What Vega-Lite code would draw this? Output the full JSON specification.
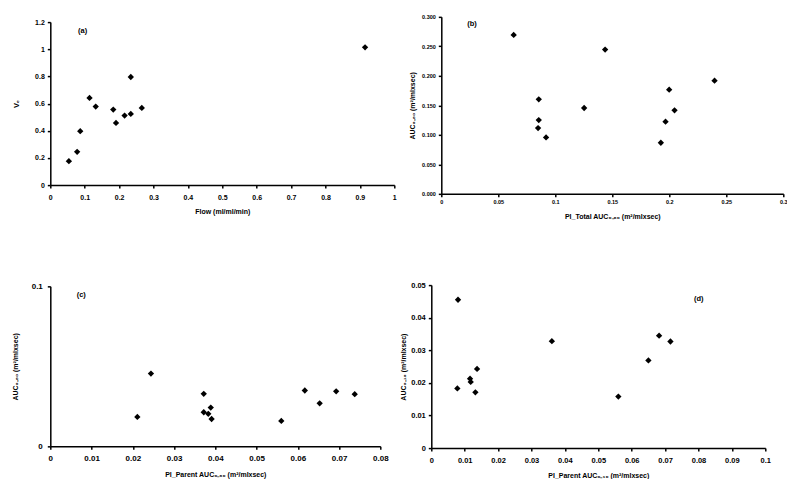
{
  "$schema": "https://vega.github.io/schema/vega-lite/v6.json",
  "padding": {"left": 11.3, "top": 11.6, "right": 0, "bottom": 0},
  "background": "white",
  "datasets": {
    "a": [
      {"x": 0.054, "y": 0.176}, {"x": 0.078, "y": 0.245}, {"x": 0.087, "y": 0.397},
      {"x": 0.114, "y": 0.642}, {"x": 0.132, "y": 0.578}, {"x": 0.183, "y": 0.556},
      {"x": 0.191, "y": 0.458}, {"x": 0.216, "y": 0.512}, {"x": 0.234, "y": 0.524},
      {"x": 0.234, "y": 0.796}, {"x": 0.266, "y": 0.568}, {"x": 0.915, "y": 1.014},
      {"x": 0.094, "y": 1.134, "label": "(a)"}
    ],
    "b": [
      {"x": 0.0635, "y": 0.2694}, {"x": 0.1437, "y": 0.2445}, {"x": 0.2397, "y": 0.1919},
      {"x": 0.1999, "y": 0.1766}, {"x": 0.0855, "y": 0.1602}, {"x": 0.1253, "y": 0.1455},
      {"x": 0.2046, "y": 0.1415}, {"x": 0.0855, "y": 0.1251}, {"x": 0.1967, "y": 0.1223},
      {"x": 0.0849, "y": 0.1115}, {"x": 0.0919, "y": 0.0957}, {"x": 0.1926, "y": 0.0866},
      {"x": 0.027, "y": 0.2876, "label": "(b)"}
    ],
    "c": [
      {"x": 0.0244, "y": 0.0455}, {"x": 0.0211, "y": 0.0184}, {"x": 0.0372, "y": 0.0328},
      {"x": 0.0372, "y": 0.0213}, {"x": 0.0383, "y": 0.0203}, {"x": 0.0389, "y": 0.0242},
      {"x": 0.0391, "y": 0.0171}, {"x": 0.056, "y": 0.0159}, {"x": 0.0617, "y": 0.0349},
      {"x": 0.0653, "y": 0.0269}, {"x": 0.0693, "y": 0.0344}, {"x": 0.0738, "y": 0.0326},
      {"x": 0.0075, "y": 0.0944, "label": "(c)"}
    ],
    "d": [
      {"x": 0.008, "y": 0.0455}, {"x": 0.0078, "y": 0.0183}, {"x": 0.0116, "y": 0.0213},
      {"x": 0.0118, "y": 0.0203}, {"x": 0.0137, "y": 0.0243}, {"x": 0.0132, "y": 0.0171},
      {"x": 0.0361, "y": 0.0328}, {"x": 0.056, "y": 0.0158}, {"x": 0.065, "y": 0.0269},
      {"x": 0.0682, "y": 0.0345}, {"x": 0.0716, "y": 0.0327},
      {"x": 0.0801, "y": 0.0458, "label": "(d)"}
    ]
  },
  "config": {
    "view": {"stroke": null},
    "axis": {
      "grid": false,
      "domainColor": "black", "domainWidth": 1.5,
      "tickColor": "black", "tickWidth": 1.5, "tickSize": 3,
      "labelFont": "Liberation Sans", "labelFontWeight": "bold", "labelColor": "black",
      "titleFont": "Liberation Sans", "titleFontWeight": "bold", "titleColor": "black",
      "labelFlush": false, "labelOverlap": false, "labelBound": false
    },
    "text": {"font": "Liberation Sans", "fontWeight": "bold", "fontSize": 7.5, "color": "black"}
  },
  "spacing": 54.25,
  "vconcat": [
    {
      "spacing": 12,
      "center": true,
      "hconcat": [
        {
          "width": 344, "height": 163,
          "data": {"name": "a"},
          "encoding": {
            "x": {"field": "x", "type": "quantitative",
              "scale": {"domain": [0, 1], "nice": false, "zero": false},
              "axis": {"values": [0, 0.1, 0.2, 0.3, 0.4, 0.5, 0.6, 0.7, 0.8, 0.9, 1], "format": "~g",
                "title": "Flow (ml/ml/min)", "labelFontSize": 7, "titleFontSize": 7, "labelPadding": 5, "titlePadding": 7}},
            "y": {"field": "y", "type": "quantitative",
              "scale": {"domain": [0, 1.2], "nice": false, "zero": false},
              "axis": {"values": [0, 0.2, 0.4, 0.6, 0.8, 1, 1.2], "format": "~g",
                "title": "Vₑ", "labelFontSize": 7, "titleFontSize": 7.5, "labelPadding": 3, "titlePadding": 13.7}}
          },
          "layer": [
            {"transform": [{"filter": "datum.label == null"}],
             "mark": {"type": "point", "shape": "diamond", "filled": true, "color": "black", "opacity": 1, "size": 40, "strokeWidth": 0}},
            {"transform": [{"filter": "datum.label != null"}],
             "mark": {"type": "text", "align": "center", "baseline": "middle"},
             "encoding": {"text": {"field": "label"}}}
          ]
        },
        {
          "width": 342, "height": 177,
          "title": {"text": " ", "fontSize": 1, "offset": 2.2},
          "data": {"name": "b"},
          "encoding": {
            "x": {"field": "x", "type": "quantitative",
              "scale": {"domain": [0, 0.3], "nice": false, "zero": false},
              "axis": {"values": [0, 0.05, 0.1, 0.15, 0.2, 0.25, 0.3], "format": "~g",
                "title": "PI_Total AUC₀₋₆₀ (m²/mlxsec)", "labelFontSize": 5.5, "titleFontSize": 7, "labelPadding": 3, "titlePadding": 7}},
            "y": {"field": "y", "type": "quantitative",
              "scale": {"domain": [0, 0.3], "nice": false, "zero": false},
              "axis": {"values": [0, 0.05, 0.1, 0.15, 0.2, 0.25, 0.3], "format": ".3f",
                "title": "AUC₀₋₆₀ (m²/mlxsec)", "labelFontSize": 5.5, "titleFontSize": 7, "labelPadding": 3, "titlePadding": 6}}
          },
          "layer": [
            {"transform": [{"filter": "datum.label == null"}],
             "mark": {"type": "point", "shape": "diamond", "filled": true, "color": "black", "opacity": 1, "size": 40, "strokeWidth": 0}},
            {"transform": [{"filter": "datum.label != null"}],
             "mark": {"type": "text", "align": "center", "baseline": "middle"},
             "encoding": {"text": {"field": "label"}}}
          ]
        }
      ]
    },
    {
      "spacing": 11,
      "center": true,
      "hconcat": [
        {
          "width": 330, "height": 160,
          "data": {"name": "c"},
          "encoding": {
            "x": {"field": "x", "type": "quantitative",
              "scale": {"domain": [0, 0.08], "nice": false, "zero": false},
              "axis": {"values": [0, 0.01, 0.02, 0.03, 0.04, 0.05, 0.06, 0.07, 0.08], "format": "~g",
                "title": "PI_Parent AUC₀₋₆₀ (m²/mlxsec)", "labelFontSize": 8, "titleFontSize": 7, "labelPadding": 5, "titlePadding": 8}},
            "y": {"field": "y", "type": "quantitative",
              "scale": {"domain": [0, 0.1], "nice": false, "zero": false},
              "axis": {"values": [0, 0.1], "format": "~g",
                "title": "AUC₀₋₆₀ (m²/mlxsec)", "labelFontSize": 8, "titleFontSize": 7, "labelPadding": 5, "titlePadding": 12.2}}
          },
          "layer": [
            {"transform": [{"filter": "datum.label == null"}],
             "mark": {"type": "point", "shape": "diamond", "filled": true, "color": "black", "opacity": 1, "size": 40, "strokeWidth": 0}},
            {"transform": [{"filter": "datum.label != null"}],
             "mark": {"type": "text", "align": "center", "baseline": "middle"},
             "encoding": {"text": {"field": "label"}}}
          ]
        },
        {
          "width": 334, "height": 163,
          "title": {"text": " ", "fontSize": 1, "offset": 5.4},
          "data": {"name": "d"},
          "encoding": {
            "x": {"field": "x", "type": "quantitative",
              "scale": {"domain": [0, 0.1], "nice": false, "zero": false},
              "axis": {"values": [0, 0.01, 0.02, 0.03, 0.04, 0.05, 0.06, 0.07, 0.08, 0.09, 0.1], "format": "~g",
                "title": "PI_Parent AUC₀₋₁₀ (m²/mlxsec)", "labelFontSize": 7.5, "titleFontSize": 7, "labelPadding": 5, "titlePadding": 8}},
            "y": {"field": "y", "type": "quantitative",
              "scale": {"domain": [0, 0.05], "nice": false, "zero": false},
              "axis": {"values": [0, 0.01, 0.02, 0.03, 0.04, 0.05], "format": "~g",
                "title": "AUC₀₋₁₀ (m²/mlxsec)", "labelFontSize": 7.5, "titleFontSize": 7, "labelPadding": 3, "titlePadding": 4}}
          },
          "layer": [
            {"transform": [{"filter": "datum.label == null"}],
             "mark": {"type": "point", "shape": "diamond", "filled": true, "color": "black", "opacity": 1, "size": 40, "strokeWidth": 0}},
            {"transform": [{"filter": "datum.label != null"}],
             "mark": {"type": "text", "align": "center", "baseline": "middle"},
             "encoding": {"text": {"field": "label"}}}
          ]
        }
      ]
    }
  ]
}
